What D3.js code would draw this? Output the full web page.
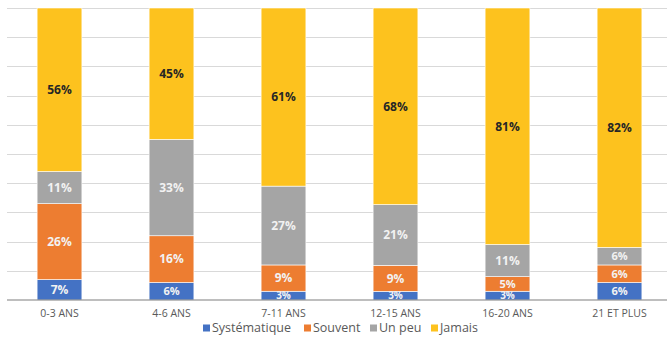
<!DOCTYPE html>
<html>
<head>
<meta charset="utf-8">
<script src="https://cdn.jsdelivr.net/npm/d3@7"></script>
<style>
  html, body { margin: 0; padding: 0; background: #fff; }
  svg { display: block; font-family: "Open Sans", sans-serif; }
</style>
</head>
<body>
<svg id="chart" width="667" height="337"></svg>
<script>
// Données
const categories = ["0-3 ANS", "4-6 ANS", "7-11 ANS", "12-15 ANS", "16-20 ANS", "21 ET PLUS"];
const series = ["Systématique", "Souvent", "Un peu", "Jamais"];
const systematique = [7, 6, 3, 3, 3, 6];
const souvent = [26, 16, 9, 9, 5, 6];
const unPeu = [11, 33, 27, 21, 11, 6];
const jamais = [56, 45, 61, 68, 81, 82];
const yTicks = [0, 0.1, 0.2, 0.3, 0.4, 0.5, 0.6, 0.7, 0.8, 0.9, 1];

const colors = ["#4472C4", "#ED7D31", "#A5A5A5", "#FDC21E"];
const labelColors = ["#f2f2f2", "#f2f2f2", "#f2f2f2", "#262626"];

const rows = categories.map((c, i) => ({
  cat: c,
  "Systématique": systematique[i],
  "Souvent": souvent[i],
  "Un peu": unPeu[i],
  "Jamais": jamais[i]
}));

const svg = d3.select("#chart");

// Echelles
const x = d3.scaleBand().domain(categories).range([3.5, 675.5])
  .paddingInner(0.6).paddingOuter(0.3);
const y = d3.scaleLinear().domain([0, 1]).range([300, 8]);

const stacked = d3.stack().keys(series).offset(d3.stackOffsetExpand)(rows);

// Quadrillage
svg.append("g")
  .selectAll("line")
  .data(yTicks.slice(1))
  .join("line")
  .attr("x1", 7).attr("x2", 667)
  .attr("y1", d => Math.round(y(d)) + 0.5)
  .attr("y2", d => Math.round(y(d)) + 0.5)
  .attr("stroke", "#d9d9d9")
  .attr("stroke-width", 1);

// Barres
const layers = svg.append("g")
  .selectAll("g")
  .data(stacked)
  .join("g")
  .attr("fill", (d, i) => colors[i]);

layers.selectAll("rect")
  .data(d => d)
  .join("rect")
  .attr("x", d => x(d.data.cat))
  .attr("width", x.bandwidth())
  .attr("y", d => y(d[1]))
  .attr("height", d => y(d[0]) - y(d[1]))
  .attr("stroke", "#fff")
  .attr("stroke-width", 0.6);

// Étiquettes de valeurs
const segH = d => y(d[0]) - y(d[1]);
stacked.forEach((layer, i) => {
  svg.append("g")
    .selectAll("text")
    .data(layer)
    .join("text")
    .attr("x", d => x(d.data.cat) + x.bandwidth() / 2)
    .attr("y", d => (y(d[0]) + y(d[1])) / 2)
    .attr("dy", "0.36em")
    .attr("text-anchor", "middle")
    .attr("font-size", d => segH(d) < 12 ? "10px" : segH(d) < 20 ? "11px" : "12px")
    .attr("font-weight", "bold")
    .attr("fill", labelColors[i])
    .text(d => d.data[series[i]] + "%");
});

// Axe des abscisses
svg.append("line")
  .attr("x1", 7).attr("x2", 667)
  .attr("y1", 300).attr("y2", 300)
  .attr("stroke", "#7f7f7f")
  .attr("stroke-width", 1.2);

svg.append("g")
  .selectAll("text")
  .data(categories)
  .join("text")
  .attr("x", d => x(d) + x.bandwidth() / 2)
  .attr("y", 313)
  .attr("dy", "0.35em")
  .attr("text-anchor", "middle")
  .attr("font-size", "10.5px")
  .attr("fill", "#595959")
  .text(d => d);

// Légende
const legendX = [203, 304, 370, 431];
const legend = svg.append("g")
  .selectAll("g")
  .data(series)
  .join("g")
  .attr("transform", (d, i) => `translate(${legendX[i]},328)`);

legend.append("rect")
  .attr("x", 0).attr("y", -3.5)
  .attr("width", 7).attr("height", 7)
  .attr("fill", (d, i) => colors[i]);

legend.append("text")
  .attr("x", 9)
  .attr("dy", "0.35em")
  .attr("font-size", "12.5px")
  .attr("fill", "#595959")
  .text(d => d);
</script>
</body>
</html>
